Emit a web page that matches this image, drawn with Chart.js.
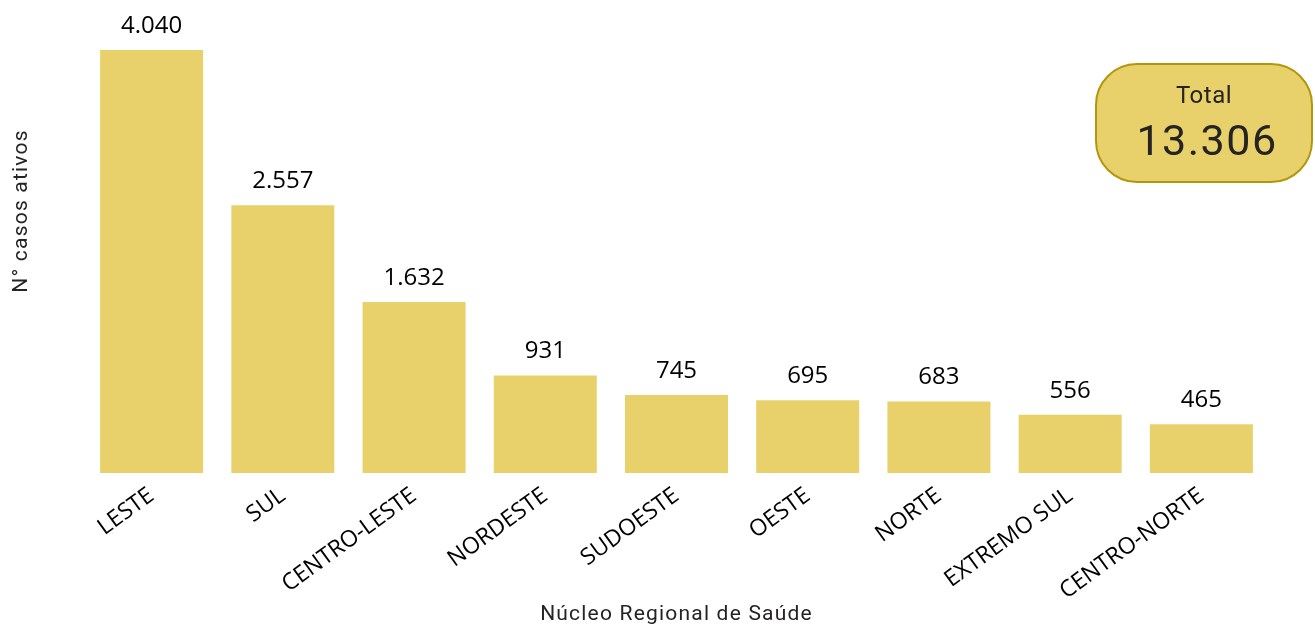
<!DOCTYPE html>
<html>
<head>
<meta charset="utf-8">
<script src="https://cdn.jsdelivr.net/npm/chart.js@4"></script>
<style>
  html, body { margin: 0; padding: 0; background: #fff; }
  #wrap { position: relative; width: 1315px; height: 629px; overflow: hidden; }
  #total {
    position: absolute; left: 1095px; top: 63px; width: 218px; height: 120px;
    box-sizing: border-box; background: #E8D16A; border: 2px solid #B3960E;
    border-radius: 42px; font-family: Roboto, sans-serif; color: #252423; text-align: center;
  }
  #total .lbl { position: absolute; left: 0; right: 0; top: 16px; font-size: 24px; letter-spacing: 0.5px; }
  #total .val { position: absolute; left: 6px; right: 0; top: 50px; font-size: 43px; letter-spacing: 1.5px; }
</style>
</head>
<body>
<div id="wrap">
  <canvas id="chart" width="1315" height="629"></canvas>
  <div id="total"><div class="lbl">Total</div><div class="val">13.306</div></div>
</div>
<script>
const regioes = ['LESTE', 'SUL', 'CENTRO-LESTE', 'NORDESTE', 'SUDOESTE', 'OESTE', 'NORTE', 'EXTREMO SUL', 'CENTRO-NORTE'];
const casosAtivos = [4040, 2557, 1632, 931, 745, 695, 683, 556, 465];

// formato pt-BR: ponto como separador de milhar
function fmt(v) {
    return String(v).replace(/\B(?=(\d{3})+(?!\d))/g, '.');
}

// rótulos de valor acima das barras + títulos dos eixos
const labelsPlugin = {
    id: 'labels',
    afterDatasetsDraw(chart) {
        const ctx = chart.ctx;
        const meta = chart.getDatasetMeta(0);
        const area = chart.chartArea;
        ctx.save();
        ctx.fillStyle = '#000';
        ctx.font = '24px "Open Sans", sans-serif';
        ctx.textAlign = 'center';
        ctx.textBaseline = 'bottom';
        meta.data.forEach((bar, i) => {
            ctx.fillText(fmt(casosAtivos[i]), bar.x, bar.y - 12);
        });
        ctx.fillStyle = '#252423';
        ctx.font = '21px Roboto, sans-serif';
        ctx.letterSpacing = '1.2px';
        ctx.textBaseline = 'middle';
        // título X
        ctx.fillText('Núcleo Regional de Saúde', (area.left + area.right) / 2, 615);
        // título Y
        ctx.translate(22, 211);
        ctx.rotate(-Math.PI / 2);
        ctx.fillText('N° casos ativos', 0, 0);
        ctx.restore();
    }
};

new Chart(document.getElementById('chart'), {
    type: 'bar',
    data: {
        labels: regioes,
        datasets: [{
            data: casosAtivos,
            backgroundColor: '#E8D16A',
            categoryPercentage: 1,
            barPercentage: 0.785
        }]
    },
    options: {
        responsive: false,
        animation: false,
        layout: { padding: { top: 0, right: 48, bottom: 0, left: 0 } },
        plugins: { legend: { display: false }, tooltip: { enabled: false } },
        scales: {
            x: {
                grid: { display: false },
                border: { display: false },
                ticks: {
                    autoSkip: false,
                    minRotation: 36,
                    maxRotation: 36,
                    padding: 1,
                    color: '#000',
                    font: { family: '"Open Sans", sans-serif', size: 23 }
                },
                afterFit(scale) { scale.height = 156; }
            },
            y: {
                min: 0,
                max: 4517,
                display: true,
                grid: { display: false },
                border: { display: false },
                ticks: { display: false },
                afterFit(scale) { scale.width = 86; }
            }
        }
    },
    plugins: [labelsPlugin]
});
</script>
</body>
</html>
